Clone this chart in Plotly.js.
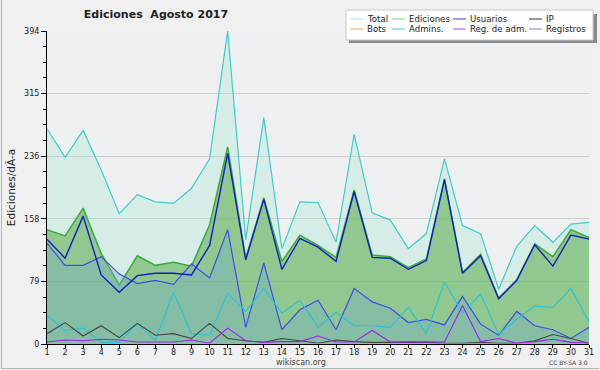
<!DOCTYPE html>
<html><head><meta charset="utf-8">
<script src="https://cdn.plot.ly/plotly-3.0.1.min.js"></script>
<style>html,body{margin:0;padding:0;background:#f0f0f0}#chart{width:600px;height:370px}</style>
</head><body><div id="chart"></div>
<script>
const days = [1,2,3,4,5,6,7,8,9,10,11,12,13,14,15,16,17,18,19,20,21,22,23,24,25,26,27,28,29,30,31];
const total = [271,235,269,219,164,188,179,177,196,233,394,131,285,120,179,178,128,264,165,156,120,139,233,149,139,69,123,149,128,151,153];
const ediciones = [144,136,171,114,74,111,99,103,98,150,248,108,184,104,137,124,109,194,112,110,96,107,208,90,113,58,81,126,110,144,134];
const usuarios = [132,108,161,87,65,86,89,89,87,124,240,106,182,94,133,122,104,192,109,108,94,105,207,89,111,57,80,125,98,137,132];
const ip = [13,27,10,23,8,26,11,13,7,26,7,4,2,7,4,1,5,3,2,2,2,2,1,1,2,1,1,4,12,7,1];
const bots = [0,0,0,0,0,0,0,0,0,0,0,0,0,0,0,0,0,0,0,0,0,0,0,0,0,0,0,0,0,0,0];
const admins = [36,17,20,2,2,26,5,65,13,11,64,41,70,39,55,21,40,23,23,21,46,13,78,39,63,12,31,48,46,70,28];
const regadm = [2.5,5,4,6,5,2.5,2.5,2.5,5,1,20,4,2,3,3,10,2.5,2.5,17,2.5,3,2.5,2.5,48,3,7,1,3,6,2,1];
const registros = [127,99,99,110,88,76,80,75,101,83,144,21,102,18,43,55,18,70,53,45,27,31,24,60,25,11,41,23,18,7,21];
const yTickVals = [0,78.8,157.6,236.4,315.2,394];
const yTickText = ['0','79','158','236','315','394'];
const legendNames = ['Total','Ediciones','Usuarios','IP','Bots','Admins.','Reg. de adm.','Registros'];

const legendColors = ['#a8e6e2','#80d080','#4040dd','#333333','#ffa040','#40c8dc','#c040e0','#7878ee'];

const L=47, R=589, T=31, B=344;
const px = x => (x-L)/(R-L);
const py = y => (B-y)/(B-T);

function ln(y, color, width, fill, fillcolor, name){
  const t = {x: days, y: y, type:'scatter', mode:'lines', name:name, showlegend:false,
    line:{color:color, width:width}, hoverinfo:'skip'};
  if (fill){ t.fill='tozeroy'; t.fillcolor=fillcolor; }
  return t;
}
const traces = [
  ln(total, '#3ccfc6', 1.2, true, 'rgba(160,230,205,0.30)', 'Total'),
  ln(ediciones, '#3aac3a', 1.5, true, 'rgba(96,176,86,0.60)', 'Ediciones'),
  ln(registros, '#3d4ee8', 1.2, true, 'rgba(115,171,207,0.35)', 'Registros'),
  ln(usuarios, '#1020c0', 1.4, false, null, 'Usuarios'),
  ln(admins, '#22c4dc', 1.1, false, null, 'Admins.'),
  ln(ip, '#444444', 1.1, false, null, 'IP'),
  ln(regadm, '#a020f0', 1.1, false, null, 'Reg. de adm.'),
  ln(bots, '#ff9933', 1.0, false, null, 'Bots')
];

const shapes = [];
const annotations = [];
// legend box with shadow
shapes.push({type:'rect', xref:'paper', yref:'paper', layer:'above', x0:px(349), x1:px(597), y0:py(14), y1:py(43), fillcolor:'#8a8a8a', line:{width:0}});
shapes.push({type:'rect', xref:'paper', yref:'paper', layer:'above', x0:px(346), x1:px(593), y0:py(10), y1:py(40), fillcolor:'#ffffff', line:{color:'#c8c8c8', width:1}});
const colX = [350, 392, 453, 529];
const rowY = [19, 29];
legendNames.forEach((n,i)=>{
  const c = i%4, r = Math.floor(i/4);
  const x0 = colX[c];
  shapes.push({type:'line', xref:'paper', yref:'paper', layer:'above', x0:px(x0), x1:px(x0+13), y0:py(rowY[r]), y1:py(rowY[r]), line:{color:legendColors[i], width:1}});
  annotations.push({xref:'paper', yref:'paper', x:px(x0+15), y:py(rowY[r]), xanchor:'left', yanchor:'middle', showarrow:false, text:n, font:{family:'DejaVu Sans', size:8.6, color:'#222'}});
});
// image border
shapes.push({type:'line', xref:'paper', yref:'paper', layer:'above', x0:px(1.5), x1:px(1.5), y0:py(0), y1:py(369), line:{color:'#b4b4b4', width:1}});
shapes.push({type:'line', xref:'paper', yref:'paper', layer:'above', x0:px(1.5), x1:px(599), y0:py(368.5), y1:py(368.5), line:{color:'#b4b4b4', width:1}});
annotations.push({xref:'paper', yref:'paper', x:px(301), y:py(362), xanchor:'center', yanchor:'middle', showarrow:false, text:'wikiscan.org', font:{family:'DejaVu Sans', size:8, color:'#444'}});
annotations.push({xref:'paper', yref:'paper', x:px(590), y:py(362), xanchor:'right', yanchor:'middle', showarrow:false, text:'CC BY-SA 3.0', font:{family:'DejaVu Sans', size:6, color:'#444'}});

const layout = {
  width:600, height:370,
  margin:{l:L, r:600-R, t:T, b:370-B, pad:0},
  paper_bgcolor:'#f0f0f0', plot_bgcolor:'#eeeff1',
  showlegend:false,
  title:{text:'<b>Ediciones  Agosto 2017</b>', x:156/600, xanchor:'center', xref:'container', y:1-14/370, yanchor:'middle', yref:'container', font:{family:'DejaVu Sans', size:11, color:'#222'}},
  xaxis:{range:[1,31], tickmode:'array', tickvals:days, ticktext:days.map(String), ticks:'outside', ticklen:3, tickcolor:'#000', ticklabelstandoff:-3, showline:true, linecolor:'#000', linewidth:1, showgrid:false, zeroline:false, tickfont:{family:'DejaVu Sans', size:8, color:'#222'}, fixedrange:true},
  yaxis:{range:[0,394], tickmode:'array', tickvals:yTickVals, ticktext:yTickText, ticks:'outside', ticklen:5, tickcolor:'#000', showline:true, linecolor:'#000', linewidth:1, showgrid:true, gridcolor:'#cfcfcf', gridwidth:1, zeroline:false, tickfont:{family:'DejaVu Sans', size:8, color:'#222'},
    minor:{tickmode:'linear', tick0:0, dtick:19.7, ticks:'outside', ticklen:3, tickcolor:'#000', showgrid:false},
    title:{text:'Ediciones/dÃ-a', standoff:6, font:{family:'DejaVu Sans', size:10.5, color:'#222'}}, fixedrange:true},
  shapes:shapes, annotations:annotations
};
Plotly.newPlot('chart', traces, layout, {staticPlot:true, displayModeBar:false});
</script></body></html>
